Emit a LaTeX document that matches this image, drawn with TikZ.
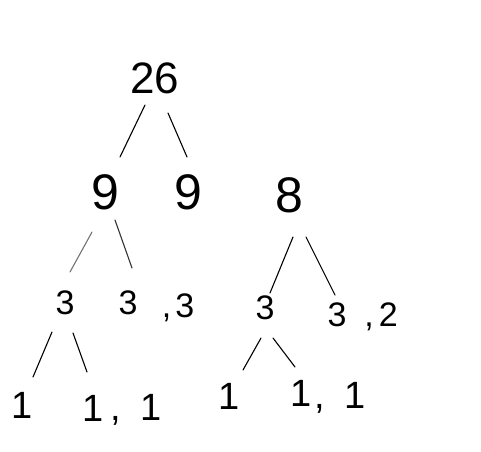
\documentclass[tikz,border=0pt]{standalone}
\usepackage{fontspec}
\setmainfont{Liberation Sans}
\usetikzlibrary{calc}
\tikzset{
  num/.style={inner sep=0pt, font=\fontsize{#1}{#1}\selectfont},
  num/.default=34,
  stroke/.style={line width=1.1pt, line cap=round, black},
  faint/.style={line width=1.1pt, line cap=round, black!55}
}
\begin{document}
\begin{tikzpicture}[x=1pt,y=-1pt]
\useasboundingbox (0,0) rectangle (481,451);
% nodes
\node[num=44] (root) at (155,78) {26};
\node[num=50] (n9a) at (105,192) {9};
\node[num=50] (n9b) at (188,192) {9};
\node[num=50] (n8) at (289,195) {8};
\node[num] (n3a) at (65,303) {3};
\node[num] (n3b) at (128,303) {3};
\node[num] (n3c) at (178,308) {,\hspace{4pt}3};
\node[num] (n3d) at (265,308) {3};
\node[num] (n3e) at (337,315) {3};
\node[num] (n2) at (381,317) {,\hspace{5pt}2};
\node[num=38] (l1) at (22,405) {1};
\node[num=38] (l2) at (93,408) {1};
\node[num=38] (l3) at (136,410) {,\hspace{20pt}1};
\node[num=38] (l4) at (229,396) {1};
\node[num=38] (l5) at (301,393) {1};
\node[num=38] (l6) at (340,398) {,\hspace{20pt}1};
% connectors
\draw[stroke] ($(root)+(-10,27)$) -- ($(n9a)+(15,-35)$);
\draw[stroke] ($(root)+(13,35)$) -- ($(n9b)+(-1,-35)$);
\draw[faint] ($(n9a)+(-13,40)$) -- ($(n3a)+(5,-31)$);
\draw[stroke, black!80] ($(n9a)+(10,28)$) -- ($(n3b)+(4,-35)$);
\draw[stroke] ($(n8)+(4,42)$) -- ($(n3d)+(5,-15)$);
\draw[stroke] ($(n8)+(17,42)$) -- ($(n3e)+(-2,-20)$);
\draw[stroke] ($(n3a)+(-13,29)$) -- ($(l1)+(11,-28)$);
\draw[stroke] ($(n3a)+(8,30)$) -- ($(l2)+(-6,-36)$);
\draw[stroke] ($(n3d)+(-4,30)$) -- ($(l4)+(14,-26)$);
\draw[stroke] ($(n3d)+(8,30)$) -- ($(l5)+(-6,-26)$);
\end{tikzpicture}
\end{document}
